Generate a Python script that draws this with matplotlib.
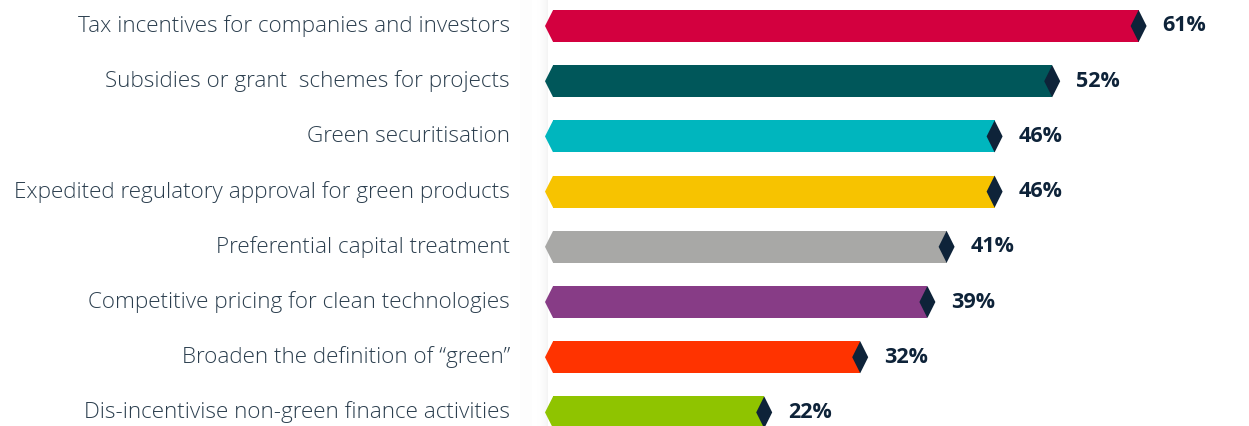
import matplotlib
matplotlib.use("Agg")
import matplotlib.pyplot as plt
import numpy as np
from matplotlib.patches import Polygon

categories = [
    "Tax incentives for companies and investors",
    "Subsidies or grant  schemes for projects",
    "Green securitisation",
    "Expedited regulatory approval for green products",
    "Preferential capital treatment",
    "Competitive pricing for clean technologies",
    "Broaden the definition of \u201cgreen\u201d",
    "Dis-incentivise non-green finance activities",
]
values = [61, 52, 46, 46, 41, 39, 32, 22]
value_labels = ["61%", "52%", "46%", "46%", "41%", "39%", "32%", "22%"]
colors = ["#d3003f", "#00575a", "#00b6be", "#f7c300", "#a8a8a6",
          "#873c86", "#ff3300", "#8fc400"]

W, H = 1249, 426
fig = plt.figure(figsize=(W / 100, H / 100), dpi=100)
ax = fig.add_axes([0, 0, 1, 1])

# pixel mapping: x_px = x0 + sx * value ; y_px = y0 + sy * index
x0, sx = 553.0, 9.6
y0, sy = 26.0, 55.2
ax.set_xlim(-x0 / sx, (W - x0) / sx)
ax.set_ylim((H - y0) / sy, -y0 / sy)
ax.axis("off")

bar_h = 32 / sy
tip_w = 8 / sx
dia_w = 16 / sx
navy = "#0e2339"

# faint shadow on the left edge of the panel
grad = np.linspace(0, 1, 100) ** 3
img = np.ones((1, 100, 4))
img[..., :3] = 0.55
img[0, :, 3] = grad * 0.10
ax.imshow(img, extent=[(532 - x0) / sx, (548 - x0) / sx, (H - y0) / sy, -y0 / sy],
          aspect="auto", zorder=0, interpolation="bilinear")
bg = np.ones((1, 1, 4)); bg[..., :3] = 0.5; bg[..., 3] = 0.015
ax.imshow(bg, extent=[(520 - x0) / sx, (532 - x0) / sx, (H - y0) / sy, -y0 / sy],
          aspect="auto", zorder=0)

ypos = np.arange(len(categories))
ax.barh(ypos, values, height=bar_h, color=colors, left=0, zorder=2, linewidth=0)

for y, v, c, lab, cat in zip(ypos, values, colors, value_labels, categories):
    # pointed left end
    ax.add_patch(Polygon([(0.01, y - bar_h / 2), (-tip_w, y), (0.01, y + bar_h / 2)],
                         closed=True, facecolor=c, edgecolor="none", zorder=2))
    # diamond marker at bar end
    ax.add_patch(Polygon([(v - dia_w / 2, y), (v, y - bar_h / 2),
                          (v + dia_w / 2, y), (v, y + bar_h / 2)],
                         closed=True, facecolor=navy, edgecolor="none", zorder=3))
    ax.text(v + 24 / sx, y, lab, ha="left", va="center", fontsize=15.5,
            fontweight="bold", color=navy, family=["Open Sans", "DejaVu Sans"])
    ax.text((510 - x0) / sx, y, cat, ha="right", va="center", fontsize=16.2,
            fontweight="light", color="#2b3e4e", family=["Open Sans", "DejaVu Sans"])

fig.savefig("out.png", dpi=100, facecolor="white")
